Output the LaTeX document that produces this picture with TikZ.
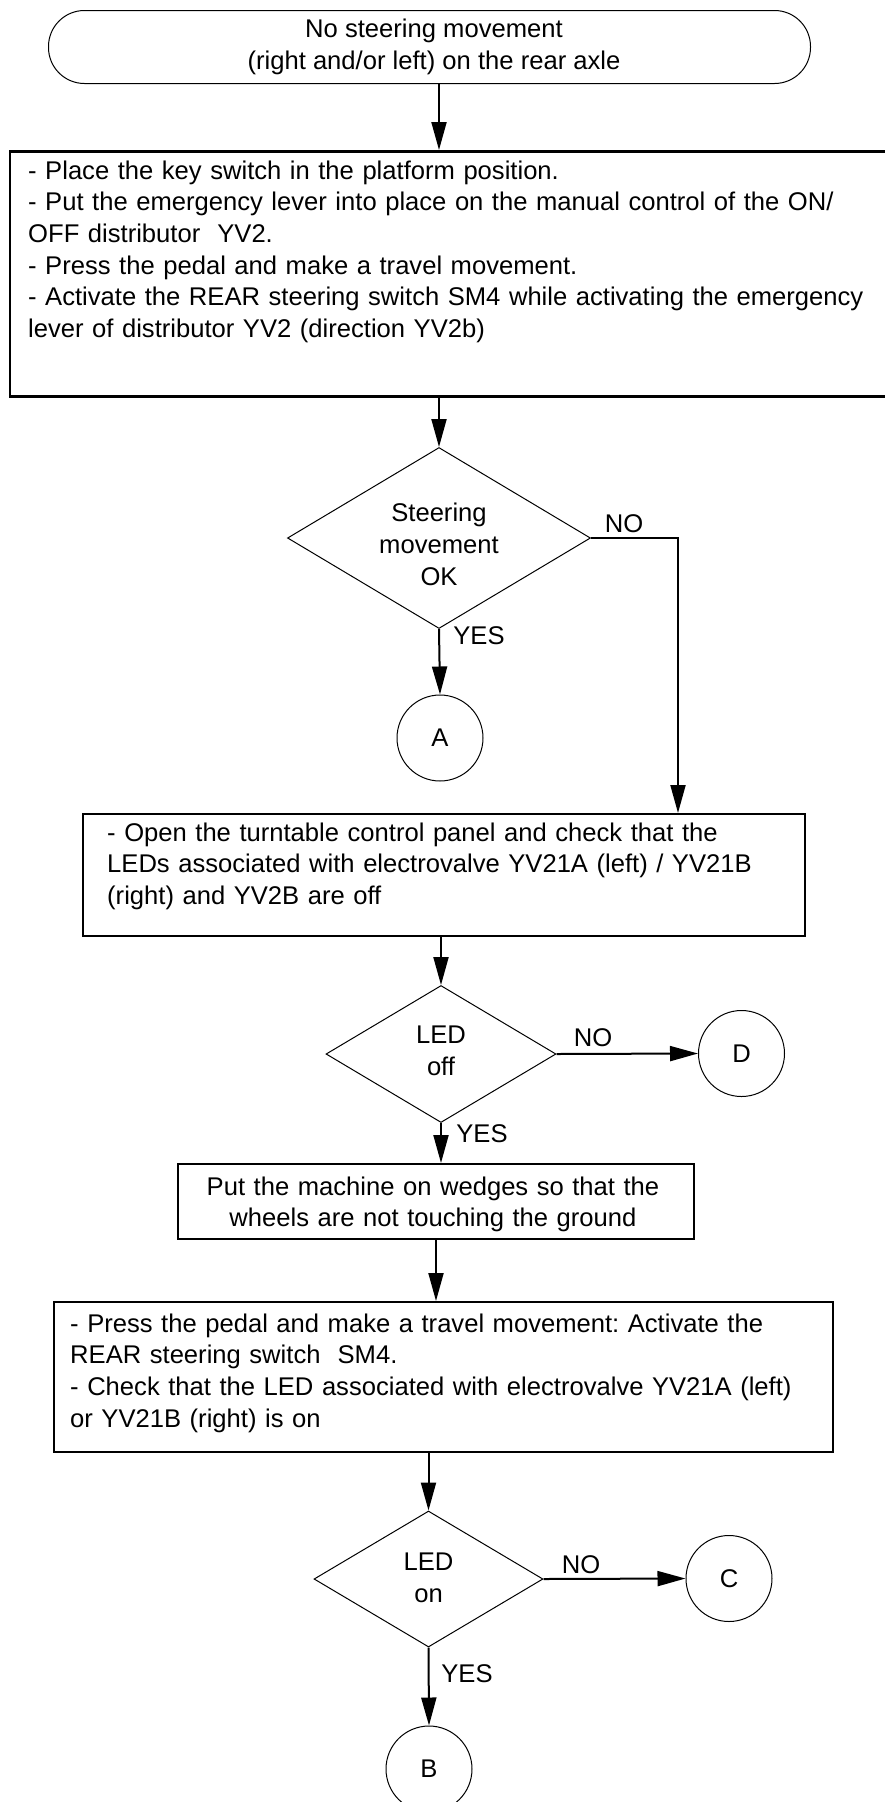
\documentclass[tikz,border=0pt]{standalone}
\usepackage{fontspec}
\setmainfont{Liberation Sans}
\usetikzlibrary{arrows.meta,shapes.geometric}
\frenchspacing
\begin{document}
\begin{tikzpicture}[x=1pt,y=-1pt,
  every node/.style={font=\fontsize{25.6}{31.7}\selectfont},
  box/.style={draw, line width=2pt, inner sep=0pt, anchor=north west},
  txt/.style={inner sep=0pt, anchor=base west, align=left},
  dec/.style={draw, diamond, line width=1pt, inner sep=0pt},
  conn/.style={draw, circle, line width=1pt, minimum size=86pt, inner sep=0pt},
  lbl/.style={inner sep=0pt, anchor=base},
  arr/.style={line width=2pt, -{Triangle[length=28pt,width=15pt]}}]
\useasboundingbox (0,0) rectangle (885,1802);
% start terminal
\node[draw, line width=1pt, rounded corners=36pt, minimum width=762pt, minimum height=73pt, inner sep=0pt, anchor=north west] (term) at (48,10) {};
\node[inner sep=0pt, align=center] (termtxt) at (434,46.6) {No steering movement\\(right and/or left) on the rear axle};
% box 1
\node[box, line width=2.5pt, minimum width=890pt, minimum height=245pt] (box1) at (8.5,150) {};
\node[txt, text width=870pt] (t1) at (28,179) {- Place the key switch in the platform position.\\
- Put the emergency lever into place on the manual control of the ON/\\
OFF distributor~ YV2.\\
- Press the pedal and make a travel movement.\\
- Activate the REAR steering switch SM4 while activating the emergency\\
lever of distributor YV2 (direction YV2b)};
% decision 1
\node[dec, minimum width=303pt, minimum height=181pt] (d1) at (439,538) {};
\node[inner sep=0pt, align=center] (d1txt) at (439,544.5) {Steering\\movement\\OK};
\node[conn] (A) at (440,738) {A};
\coordinate (n1) at (678,538);
% box 2
\node[box, minimum width=722pt, minimum height=122pt] (box2) at (82,813) {};
\node[txt, text width=700pt] (t2) at (107,841) {- Open the turntable control panel and check that the\\
LEDs associated with electrovalve YV21A (left) / YV21B\\
(right) and YV2B are off};
% decision 2
\node[dec, minimum width=230pt, minimum height=137pt] (d2) at (441,1054) {};
\node[inner sep=0pt, align=center] (d2txt) at (441,1051) {LED\\off};
\node[conn] (D) at (741.5,1053.5) {D};
% box 3
\node[box, minimum width=516pt, minimum height=75pt] (box3) at (177,1163) {};
\node[inner sep=0pt, anchor=base, align=center, text width=510pt] (t3) at (433,1195) {Put the machine on wedges so that the\\wheels are not touching the ground};
% box 4
\node[box, minimum width=779pt, minimum height=150pt] (box4) at (53,1301) {};
\node[txt, text width=770pt] (t4) at (70,1332) {- Press the pedal and make a travel movement: Activate the\\
REAR steering switch~ SM4.\\
- Check that the LED associated with electrovalve YV21A (left)\\
or YV21B (right) is on};
% decision 3
\node[dec, minimum width=229pt, minimum height=136pt] (d3) at (428.5,1579) {};
\node[inner sep=0pt, align=center] (d3txt) at (428.5,1578) {LED\\on};
\node[conn] (C) at (729,1578.5) {C};
\node[conn] (B) at (429,1769) {B};
% labels
\node[lbl] (no1) at (624,532) {NO};
\node[lbl] (yes1) at (479,644) {YES};
\node[lbl] (no2) at (593,1046) {NO};
\node[lbl] (yes2) at (482,1142) {YES};
\node[lbl] (no3) at (581,1573) {NO};
\node[lbl] (yes3) at (467,1682) {YES};
% connectors
\draw[arr] (d1.north |- term.south) -- (d1.north |- box1.north);
\draw[arr] (d1.north |- box1.south) -- (d1.north);
\draw[arr] (d1.south) -- (A.north);
\draw[arr] (d1.east) -- (n1) -- (n1 |- box2.north);
\draw[arr] (d2.north |- box2.south) -- (d2.north);
\draw[arr] (d2.east) -- (D.west);
\draw[arr] (d2.south) -- (d2.south |- box3.north);
\draw[arr] (box3.south) -- (box3.south |- box4.north);
\draw[arr] (d3.north |- box4.south) -- (d3.north);
\draw[arr] (d3.east) -- (C.west);
\draw[arr] (d3.south) -- (B.north);
\end{tikzpicture}
\end{document}
